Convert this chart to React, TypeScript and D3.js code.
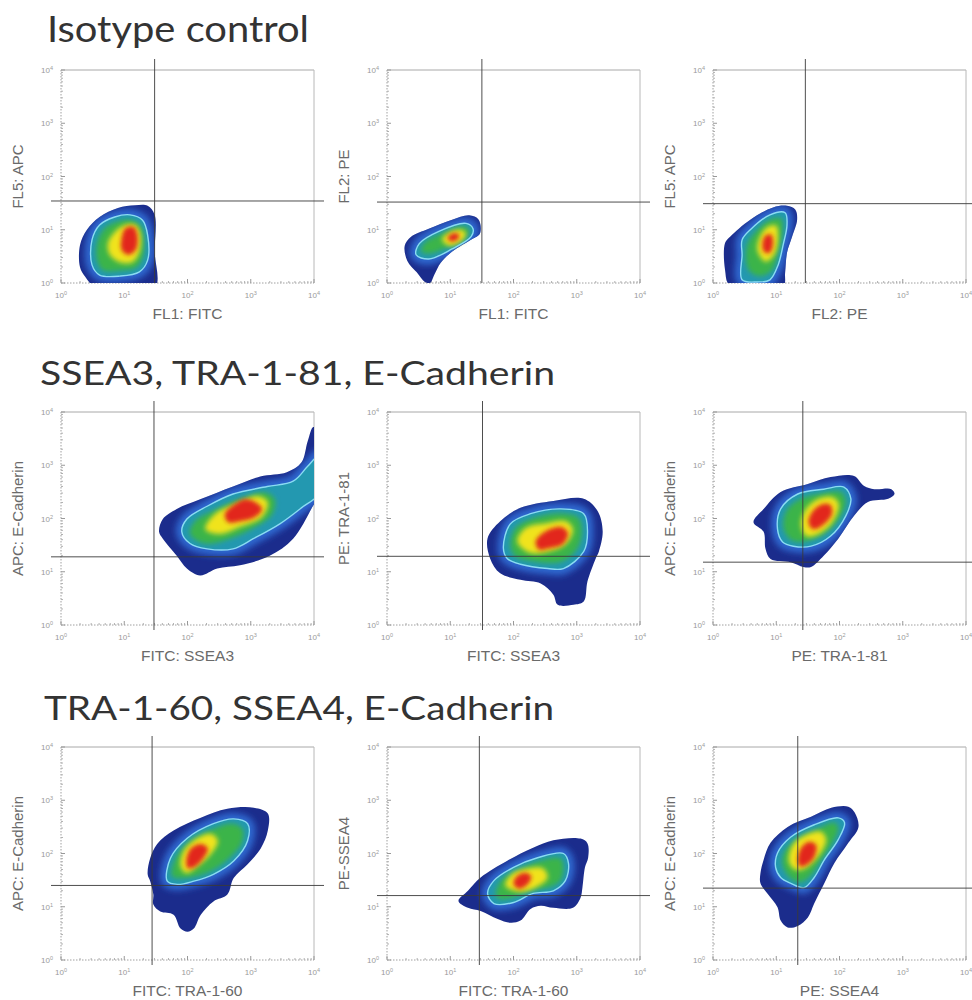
import React from "react";
import * as d3 from "d3";

type Pt = [number, number];

// ---- text content ----
const rowTitles = ["Isotype control", "SSEA3, TRA-1-81, E-Cadherin", "TRA-1-60, SSEA4, E-Cadherin"];
const xLabels = ["FL1: FITC", "FL1: FITC", "FL2: PE", "FITC: SSEA3", "FITC: SSEA3", "PE: TRA-1-81", "FITC: TRA-1-60", "FITC: TRA-1-60", "PE: SSEA4"];
const yLabels = ["FL5: APC", "FL2: PE", "FL5: APC", "APC: E-Cadherin", "PE: TRA-1-81", "APC: E-Cadherin", "APC: E-Cadherin", "PE-SSEA4", "APC: E-Cadherin"];
const decades = [0, 1, 2, 3, 4];
const minorFactors = [2, 3, 4, 5, 6, 7, 8, 9];

// quadrant gate positions (log10 units)
const gateX = [1.48, 1.5, 1.46, 1.47, 1.51, 1.42, 1.44, 1.46, 1.34];
const gateY = [1.54, 1.52, 1.49, 1.28, 1.29, 1.18, 1.4, 1.21, 1.35];

// ---- density contours (log10 x, log10 y) ----
const r1c1Outer: Pt[] = [[0.3, 0.3], [0.3, 0.71], [0.41, 1.0], [0.61, 1.24], [0.9, 1.41], [1.17, 1.46], [1.37, 1.45], [1.48, 1.28], [1.48, 0.6], [1.48, -0.1], [0.57, -0.1], [0.38, 0.12]];
const r1c1Cyan: Pt[] = [[0.49, 0.81], [0.61, 1.09], [0.85, 1.24], [1.09, 1.28], [1.29, 1.18], [1.37, 0.9], [1.37, 0.43], [1.24, 0.21], [0.93, 0.13], [0.61, 0.15], [0.49, 0.34]];
const r1c1Green: Pt[] = [[0.57, 0.75], [0.69, 1.03], [0.9, 1.16], [1.12, 1.18], [1.26, 1.07], [1.31, 0.81], [1.29, 0.47], [1.18, 0.28], [0.93, 0.23], [0.66, 0.24], [0.57, 0.43]];
const r1c1Yellow: Pt[] = [[0.74, 0.75], [0.85, 0.96], [1.01, 1.09], [1.18, 1.09], [1.26, 0.9], [1.24, 0.58], [1.13, 0.39], [0.93, 0.39], [0.77, 0.53]];
const r1c1Red: Pt[] = [[0.96, 0.85], [1.02, 1.03], [1.15, 1.05], [1.21, 0.88], [1.18, 0.62], [1.06, 0.53], [0.96, 0.62]];

const r1c2Outer: Pt[] = [[0.6, 0.02], [0.47, 0.2], [0.32, 0.42], [0.28, 0.7], [0.38, 0.87], [0.66, 1.02], [1.03, 1.19], [1.3, 1.27], [1.45, 1.19], [1.47, 0.93], [1.34, 0.82], [1.03, 0.59], [0.85, 0.38], [0.75, 0.16], [0.68, 0.0]];
const r1c2Cyan: Pt[] = [[0.46, 0.53], [0.51, 0.74], [0.82, 0.97], [1.25, 1.12], [1.36, 1.02], [1.33, 0.87], [1.03, 0.64], [0.66, 0.45]];
const r1c2Green: Pt[] = [[0.54, 0.59], [0.6, 0.76], [0.87, 0.93], [1.22, 1.06], [1.3, 0.99], [1.25, 0.85], [0.98, 0.68], [0.66, 0.55]];
const r1c2Yellow: Pt[] = [[0.87, 0.82], [0.98, 0.95], [1.17, 1.0], [1.25, 0.93], [1.17, 0.78], [0.98, 0.7]];
const r1c2Red: Pt[] = [[0.96, 0.85], [1.04, 0.93], [1.14, 0.91], [1.12, 0.82], [1.01, 0.78]];

const r1c3Outer: Pt[] = [[0.27, -0.05], [0.19, 0.25], [0.19, 0.75], [0.27, 0.87], [0.59, 1.19], [0.95, 1.42], [1.17, 1.45], [1.3, 1.38], [1.33, 1.19], [1.25, 0.87], [1.17, 0.57], [1.14, 0.19], [1.11, -0.05]];
const r1c3Cyan: Pt[] = [[0.46, 0.06], [0.46, 0.53], [0.46, 0.81], [0.59, 1.0], [0.9, 1.28], [1.14, 1.32], [1.17, 1.09], [1.11, 0.72], [1.03, 0.34], [0.9, 0.06], [0.7, 0.02]];
const r1c3Green: Pt[] = [[0.56, 0.25], [0.54, 0.72], [0.67, 0.96], [0.9, 1.19], [1.08, 1.21], [1.1, 0.96], [1.03, 0.58], [0.94, 0.25], [0.75, 0.13]];
const r1c3Yellow: Pt[] = [[0.7, 0.62], [0.75, 0.89], [0.87, 1.06], [1.0, 1.08], [1.03, 0.85], [0.97, 0.53], [0.83, 0.4]];
const r1c3Red: Pt[] = [[0.78, 0.72], [0.83, 0.89], [0.92, 0.91], [0.95, 0.74], [0.9, 0.57], [0.81, 0.58]];

const r2c1Outer: Pt[] = [[1.55, 1.75], [1.61, 1.62], [1.83, 1.3], [1.99, 1.06], [2.2, 0.93], [2.47, 1.06], [2.83, 1.12], [3.3, 1.3], [3.67, 1.62], [3.98, 2.23], [4.1, 2.5], [4.1, 3.5], [3.99, 3.72], [3.9, 3.45], [3.8, 3.05], [3.57, 2.87], [3.15, 2.79], [2.72, 2.6], [2.2, 2.36], [1.83, 2.18], [1.61, 1.99]];
const r2c1Cyan: Pt[] = [[1.91, 1.75], [1.99, 1.99], [2.31, 2.23], [2.72, 2.46], [3.26, 2.6], [3.67, 2.7], [3.9, 2.98], [4.1, 3.2], [4.1, 2.5], [3.8, 2.2], [3.46, 1.9], [3.04, 1.62], [2.72, 1.43], [2.31, 1.43], [2.04, 1.53]];
const r2c1Green: Pt[] = [[2.04, 1.71], [2.12, 1.95], [2.4, 2.14], [2.83, 2.36], [3.23, 2.49], [3.38, 2.36], [3.34, 2.08], [3.07, 1.84], [2.67, 1.62], [2.28, 1.53]];
const r2c1Yellow: Pt[] = [[2.28, 1.8], [2.43, 2.08], [2.75, 2.27], [3.12, 2.42], [3.27, 2.31], [3.18, 2.03], [2.83, 1.84], [2.51, 1.71]];
const r2c1Red: Pt[] = [[2.59, 2.08], [2.75, 2.27], [2.91, 2.36], [3.07, 2.31], [3.18, 2.18], [3.07, 2.03], [2.83, 1.95], [2.64, 1.93]];

const r2c2Outer: Pt[] = [[1.59, 1.63], [1.79, 1.95], [2.11, 2.2], [2.63, 2.33], [3.11, 2.37], [3.33, 2.14], [3.41, 1.76], [3.35, 1.38], [3.3, 1.25], [3.17, 0.82], [3.11, 0.44], [2.95, 0.38], [2.7, 0.38], [2.63, 0.57], [2.43, 0.78], [2.11, 0.85], [1.79, 0.97], [1.63, 1.25]];
const r2c2Cyan: Pt[] = [[1.84, 1.44], [1.95, 1.9], [2.27, 2.09], [2.75, 2.18], [3.11, 2.09], [3.17, 1.76], [3.11, 1.38], [2.79, 1.06], [2.54, 1.06], [2.11, 1.14], [1.9, 1.25]];
const r2c2Green: Pt[] = [[1.95, 1.48], [2.03, 1.82], [2.32, 2.01], [2.75, 2.1], [3.03, 2.01], [3.08, 1.73], [3.0, 1.42], [2.75, 1.19], [2.35, 1.19], [2.03, 1.29]];
const r2c2Yellow: Pt[] = [[2.06, 1.57], [2.19, 1.82], [2.51, 1.91], [2.83, 1.95], [2.94, 1.8], [2.83, 1.52], [2.56, 1.38], [2.27, 1.35]];
const r2c2Red: Pt[] = [[2.35, 1.57], [2.51, 1.76], [2.75, 1.84], [2.86, 1.73], [2.78, 1.52], [2.56, 1.44], [2.4, 1.42]];

const r2c3Outer: Pt[] = [[0.64, 1.93], [0.8, 2.18], [1.07, 2.5], [1.5, 2.65], [1.86, 2.78], [2.23, 2.8], [2.39, 2.61], [2.55, 2.55], [2.82, 2.55], [2.87, 2.46], [2.77, 2.37], [2.45, 2.31], [2.23, 2.05], [1.98, 1.62], [1.75, 1.3], [1.55, 1.09], [1.43, 1.09], [1.23, 1.18], [0.91, 1.24], [0.83, 1.43], [0.8, 1.75]];
const r2c3Cyan: Pt[] = [[1.02, 1.8], [1.07, 2.18], [1.34, 2.46], [1.75, 2.55], [2.07, 2.59], [2.18, 2.37], [2.1, 2.05], [1.86, 1.67], [1.55, 1.48], [1.27, 1.48], [1.1, 1.56]];
const r2c3Green: Pt[] = [[1.12, 1.8], [1.16, 2.14], [1.39, 2.37], [1.75, 2.48], [2.02, 2.5], [2.1, 2.33], [2.02, 2.05], [1.8, 1.75], [1.51, 1.58], [1.26, 1.58]];
const r2c3Yellow: Pt[] = [[1.39, 1.9], [1.47, 2.18], [1.67, 2.37], [1.9, 2.4], [1.99, 2.27], [1.9, 1.95], [1.67, 1.71], [1.47, 1.67]];
const r2c3Red: Pt[] = [[1.51, 1.93], [1.58, 2.14], [1.74, 2.27], [1.86, 2.25], [1.88, 2.08], [1.74, 1.88], [1.58, 1.8]];

const r3c1Outer: Pt[] = [[1.37, 1.61], [1.41, 1.91], [1.52, 2.18], [1.78, 2.43], [2.21, 2.67], [2.63, 2.84], [3.05, 2.86], [3.27, 2.75], [3.27, 2.43], [3.16, 2.1], [2.95, 1.8], [2.73, 1.54], [2.63, 1.23], [2.41, 1.1], [2.21, 0.85], [2.1, 0.59], [2.0, 0.53], [1.89, 0.59], [1.78, 0.85], [1.57, 0.91], [1.46, 1.04], [1.46, 1.23], [1.41, 1.48]];
const r3c1Cyan: Pt[] = [[1.68, 1.48], [1.73, 1.91], [2.0, 2.29], [2.41, 2.56], [2.73, 2.65], [2.95, 2.56], [2.95, 2.24], [2.73, 1.86], [2.41, 1.61], [2.1, 1.48], [1.84, 1.42]];
const r3c1Green: Pt[] = [[1.76, 1.57], [1.81, 1.91], [2.05, 2.24], [2.41, 2.46], [2.71, 2.56], [2.87, 2.46], [2.86, 2.2], [2.65, 1.9], [2.37, 1.67], [2.05, 1.55]];
const r3c1Yellow: Pt[] = [[1.89, 1.76], [1.94, 2.05], [2.13, 2.27], [2.37, 2.37], [2.48, 2.24], [2.37, 1.99], [2.16, 1.76], [1.98, 1.63]];
const r3c1Red: Pt[] = [[1.98, 1.86], [2.05, 2.09], [2.21, 2.18], [2.32, 2.1], [2.25, 1.91], [2.1, 1.74], [2.0, 1.73]];

const r3c2Outer: Pt[] = [[1.13, 1.11], [1.28, 1.3], [1.48, 1.55], [1.91, 1.87], [2.31, 2.11], [2.63, 2.25], [3.06, 2.28], [3.17, 2.19], [3.18, 1.92], [3.13, 1.74], [3.09, 1.36], [3.06, 1.17], [2.94, 0.98], [2.63, 0.98], [2.43, 1.02], [2.27, 0.96], [2.11, 0.74], [1.95, 0.7], [1.75, 0.77], [1.48, 0.92], [1.28, 0.98]];
const r3c2Cyan: Pt[] = [[1.59, 1.25], [1.69, 1.49], [2.0, 1.74], [2.38, 1.92], [2.79, 2.0], [2.87, 1.81], [2.82, 1.49], [2.63, 1.3], [2.31, 1.25], [2.0, 1.08], [1.69, 1.06]];
const r3c2Green: Pt[] = [[1.72, 1.26], [1.8, 1.49], [2.06, 1.68], [2.39, 1.85], [2.74, 1.91], [2.79, 1.75], [2.74, 1.49], [2.55, 1.36], [2.27, 1.3], [1.98, 1.17], [1.76, 1.15]];
const r3c2Yellow: Pt[] = [[1.87, 1.4], [1.98, 1.62], [2.22, 1.72], [2.47, 1.72], [2.54, 1.55], [2.38, 1.38], [2.11, 1.28]];
const r3c2Red: Pt[] = [[2.0, 1.43], [2.06, 1.58], [2.19, 1.64], [2.28, 1.57], [2.22, 1.42], [2.08, 1.34]];

const r3c3Outer: Pt[] = [[0.75, 1.63], [0.8, 1.88], [0.91, 2.2], [1.18, 2.5], [1.55, 2.69], [1.87, 2.86], [2.14, 2.88], [2.24, 2.77], [2.3, 2.5], [2.14, 2.2], [1.92, 1.82], [1.76, 1.44], [1.6, 1.06], [1.5, 0.8], [1.34, 0.64], [1.18, 0.61], [1.07, 0.74], [1.02, 0.99], [0.86, 1.25], [0.75, 1.44]];
const r3c3Cyan: Pt[] = [[0.99, 1.74], [1.02, 2.01], [1.23, 2.31], [1.6, 2.54], [1.98, 2.67], [2.08, 2.58], [1.98, 2.26], [1.76, 1.88], [1.6, 1.55], [1.44, 1.36], [1.23, 1.44], [1.07, 1.55]];
const r3c3Green: Pt[] = [[1.1, 1.78], [1.12, 2.01], [1.31, 2.26], [1.63, 2.45], [1.92, 2.58], [1.98, 2.48], [1.9, 2.22], [1.71, 1.88], [1.55, 1.59], [1.39, 1.46], [1.23, 1.53]];
const r3c3Yellow: Pt[] = [[1.2, 1.84], [1.26, 2.16], [1.47, 2.35], [1.71, 2.41], [1.79, 2.26], [1.68, 1.97], [1.47, 1.73], [1.31, 1.69]];
const r3c3Red: Pt[] = [[1.34, 1.88], [1.39, 2.1], [1.52, 2.22], [1.63, 2.16], [1.6, 1.93], [1.47, 1.78], [1.37, 1.76]];

const outers = [r1c1Outer, r1c2Outer, r1c3Outer, r2c1Outer, r2c2Outer, r2c3Outer, r3c1Outer, r3c2Outer, r3c3Outer];
const cyans = [r1c1Cyan, r1c2Cyan, r1c3Cyan, r2c1Cyan, r2c2Cyan, r2c3Cyan, r3c1Cyan, r3c2Cyan, r3c3Cyan];
const greens = [r1c1Green, r1c2Green, r1c3Green, r2c1Green, r2c2Green, r2c3Green, r3c1Green, r3c2Green, r3c3Green];
const yellows = [r1c1Yellow, r1c2Yellow, r1c3Yellow, r2c1Yellow, r2c2Yellow, r2c3Yellow, r3c1Yellow, r3c2Yellow, r3c3Yellow];
const reds = [r1c1Red, r1c2Red, r1c3Red, r2c1Red, r2c2Red, r2c3Red, r3c1Red, r3c2Red, r3c3Red];

// ---- layout ----
const COLS = [61, 387, 713];
const ROWS = [70, 412, 747];
const PW = 253;
const PH = 213;
const titleX = [47, 40, 44];
const titleY = [42, 385, 720];
const titleLen = [262, 515, 510];
const titleSize = [36, 33, 33];

const C = {
  navy: "#1b2c8c",
  band: "#2e68cf",
  teal: "#2398b0",
  green: "#3bb44a",
  yellow: "#f0e31c",
  red: "#e2251f",
  cyanLine: "#8adcf2",
};

function TickLabel({ x, y, d, anchor }: { x: number; y: number; d: number; anchor: string }) {
  return (
    <text x={x} y={y} fontSize={8} fill="#9a9a9a" textAnchor={anchor} fontFamily="Liberation Sans, Arial, sans-serif">
      10<tspan fontSize={5.5} dy={-3}>{d}</tspan>
    </text>
  );
}

function Panel({ i }: { i: number }) {
  const left = COLS[i % 3];
  const top = ROWS[Math.floor(i / 3)];
  const bottom = top + PH;
  const right = left + PW;
  const xs = d3.scaleLog().domain([1, 1e4]).range([left, right]);
  const ys = d3.scaleLog().domain([1, 1e4]).range([bottom, top]);
  const line = d3
    .line<Pt>()
    .x((d) => xs(Math.pow(10, d[0])))
    .y((d) => ys(Math.pow(10, d[1])))
    .curve(d3.curveCatmullRomClosed.alpha(0.5));
  const outerD = line(outers[i]) || "";
  const cyanD = line(cyans[i]) || "";
  const gx = xs(Math.pow(10, gateX[i]));
  const gy = ys(Math.pow(10, gateY[i]));
  const minors: number[] = [];
  decades.slice(0, 4).forEach((d) => minorFactors.forEach((f) => minors.push(f * Math.pow(10, d))));

  return (
    <g>
      <defs>
        <clipPath id={`plot${i}`}>
          <rect x={left} y={top} width={PW} height={PH} />
        </clipPath>
        <clipPath id={`outer${i}`}>
          <path d={outerD} />
        </clipPath>
      </defs>
      {/* frame */}
      <line x1={left} x2={right} y1={top} y2={top} stroke="#a8a8a8" strokeWidth={1} />
      <line x1={right} x2={right} y1={top} y2={bottom} stroke="#b8b8b8" strokeWidth={1} />
      <line x1={left} x2={left} y1={top} y2={bottom} stroke="#a0a0a0" strokeWidth={1} strokeDasharray="1.5 1.5" />
      <line x1={left} x2={right} y1={bottom} y2={bottom} stroke="#a0a0a0" strokeWidth={1} strokeDasharray="1.5 1.5" />
      {decades.map((d) => (
        <g key={`t${d}`}>
          <line x1={xs(Math.pow(10, d))} x2={xs(Math.pow(10, d))} y1={bottom} y2={bottom - 4} stroke="#999" />
          <line x1={left} x2={left + 4} y1={ys(Math.pow(10, d))} y2={ys(Math.pow(10, d))} stroke="#999" />
          <TickLabel x={xs(Math.pow(10, d))} y={bottom + 15} d={d} anchor="middle" />
          <TickLabel x={left - 8} y={ys(Math.pow(10, d)) + 3} d={d} anchor="end" />
        </g>
      ))}
      {minors.map((m, k) => (
        <g key={`m${k}`}>
          <line x1={xs(m)} x2={xs(m)} y1={bottom} y2={bottom - 2} stroke="#b0b0b0" />
          <line x1={left} x2={left + 2} y1={ys(m)} y2={ys(m)} stroke="#b0b0b0" />
        </g>
      ))}
      {/* density */}
      <g clipPath={`url(#plot${i})`}>
        <path d={outerD} fill={C.navy} />
        <g clipPath={`url(#outer${i})`}>
          <path d={cyanD} fill="none" stroke={C.band} strokeWidth={12} filter="url(#blurB)" />
        </g>
        <path d={cyanD} fill={C.teal} />
        <path d={line(greens[i]) || ""} fill={C.green} filter="url(#blurG)" />
        <path d={line(yellows[i]) || ""} fill={C.yellow} filter="url(#blurG)" />
        <path d={line(reds[i]) || ""} fill={C.red} filter="url(#blurR)" />
        <path d={cyanD} fill="none" stroke={C.cyanLine} strokeWidth={1.4} />
      </g>
      {/* quadrant gates */}
      <line x1={gx} x2={gx} y1={bottom + (i >= 3 ? 5 : 0)} y2={top - 11} stroke="#3a3a3a" strokeWidth={0.9} />
      <line x1={left - 10} x2={right + 10} y1={gy} y2={gy} stroke="#3a3a3a" strokeWidth={0.9} />
      {/* labels */}
      <text x={(left + right) / 2} y={bottom + 36} textAnchor="middle" fontSize={15.5} fill="#6a6a6a" fontFamily="Liberation Sans, Arial, sans-serif">
        {xLabels[i]}
      </text>
      <text
        transform={`translate(${left - 38},${(top + bottom) / 2}) rotate(-90)`}
        textAnchor="middle"
        fontSize={15}
        fill="#6a6a6a"
        fontFamily="Liberation Sans, Arial, sans-serif"
      >
        {yLabels[i]}
      </text>
    </g>
  );
}

export default function App() {
  return (
    <svg width={972} height={1000} style={{ position: "absolute", left: 0, top: 0, background: "#fff" }}>
      <defs>
        <filter id="blurB" x="-30%" y="-30%" width="160%" height="160%">
          <feGaussianBlur stdDeviation={3} />
        </filter>
        <filter id="blurG" x="-30%" y="-30%" width="160%" height="160%">
          <feGaussianBlur stdDeviation={2.5} />
        </filter>
        <filter id="blurR" x="-40%" y="-40%" width="180%" height="180%">
          <feGaussianBlur stdDeviation={2} />
        </filter>
      </defs>
      <rect x={0} y={0} width={972} height={1000} fill="#fff" />
      {rowTitles.map((t, r) => (
        <text
          key={t}
          x={titleX[r]}
          y={titleY[r]}
          fontSize={titleSize[r]}
          fill="#333"
          fontFamily="Lato, 'Open Sans', sans-serif"
          textLength={titleLen[r]}
          lengthAdjust="spacingAndGlyphs"
        >
          {t}
        </text>
      ))}
      {d3.range(9).map((i) => (
        <Panel key={i} i={i} />
      ))}
    </svg>
  );
}
